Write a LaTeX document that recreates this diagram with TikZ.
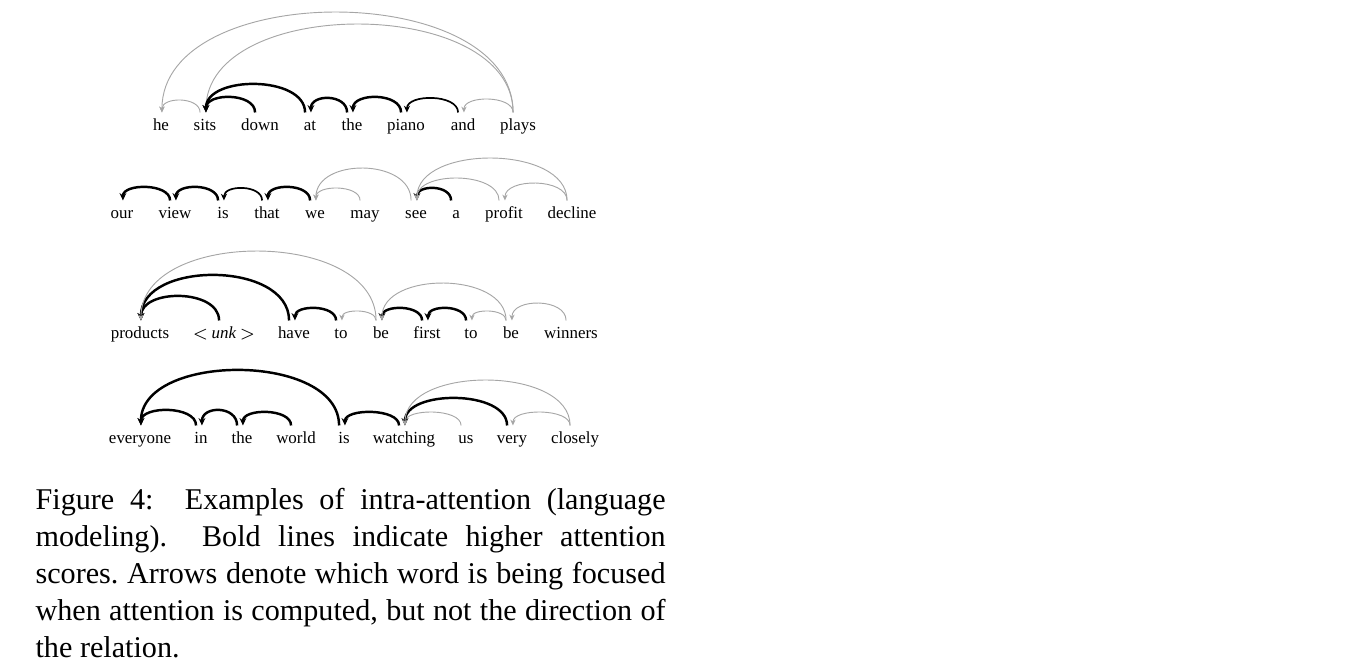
\documentclass[tikz,border=0pt]{standalone}
\usepackage{fontspec}
\setmainfont{Liberation Serif}
\usetikzlibrary{arrows.meta}

\newcommand{\wordfont}{\fontsize{5.5}{6.6}\selectfont}
\newcommand{\captionfont}{\fontsize{9.8}{12}\selectfont}

\begin{document}
\begin{tikzpicture}[x=0.325pt, y=-0.325pt,
  word/.style={font=\wordfont, anchor=base, inner sep=0pt, text height=5.5pt},
  strong/.style={black, line width=0.8pt, -{Stealth[length=2.4pt,width=2.2pt]}},
  medium/.style={black, line width=0.55pt, -{Stealth[length=2.2pt,width=2pt]}},
  weak/.style={gray!70, line width=0.3pt, -{Stealth[length=1.9pt,width=1.7pt]}}]

\useasboundingbox (0,0) rectangle (1368,668);

% ── Satz 1 ───────────────────────────────────────────────────────────
\foreach \name/\x/\txt in {he/161/he, sits/205/sits, down/260/down, at/310/at,
    the/352/the, piano/406/piano, and/463/and, plays/518/plays}
  \node[word] (\name) at (\x, 130) {\txt};

% ── Satz 2 ───────────────────────────────────────────────────────────
\foreach \name/\x/\txt in {our/122/our, view/175/view, is/223/is, that/267/that,
    we/315/we, may/365/may, see/416/see, a/456/a, profit/504/profit,
    decline/572/decline}
  \node[word] (\name) at (\x, 218) {\txt};

% ── Satz 3 ───────────────────────────────────────────────────────────
\foreach \name/\x/\txt in {products/140/products, unk/224/{$<$\,\textit{unk}\,$>$},
    have/294/have, to/341/to, be/381/be, first/427/first, to2/471/to,
    be2/511/be, winners/571/winners}
  \node[word] (\name) at (\x, 338) {\txt};

% ── Satz 4 ───────────────────────────────────────────────────────────
\foreach \name/\x/\txt in {everyone/140/everyone, in/201/in, the2/242/the,
    world/296/world, is2/344/is, watching/404/watching, us/466/us,
    very/512/very, closely/575/closely}
  \node[word] (\name) at (\x, 443) {\txt};

% ── Attention-Bögen: Quelle / Ziel / Höhe (px) / Stil ────────────────
\foreach \src/\dst/\h/\sty in {
   plays/he/100/weak, plays/sits/88/weak, sits/he/12/weak,
   down/sits/15/strong, at/sits/28/strong, the/at/14/strong,
   piano/the/15/strong, and/piano/14/medium, plays/and/13/weak,
   view/our/13/strong, is/view/13/strong, that/is/12/medium,
   we/that/13/strong, may/we/12/weak, see/we/32/weak,
   a/see/12/strong, profit/see/22/weak, decline/see/42/weak,
   decline/profit/17/weak,
   unk/products/24/strong, have/products/45/strong, be/products/69/weak,
   to/have/12/strong, be/to/9/weak, first/be/12/strong,
   to2/first/12/strong, be2/to2/9/weak, be2/be/37/weak,
   winners/be2/17/weak,
   is2/everyone/55/strong, in/everyone/15/strong, the2/in/15/strong,
   world/the2/13/strong, watching/is2/13/strong, us/watching/13/weak,
   very/watching/27/strong, closely/watching/45/weak, closely/very/13/weak}
{
  % Kontrollpunkte senkrecht über den Fußpunkten
  \pgfmathsetmacro{\ctl}{\h/0.75}
  \draw[\sty] ([xshift=-1.6pt]\src.north)
    .. controls +(0,-\ctl) and +(0,-\ctl) .. ([xshift=0.3pt]\dst.north);
}

% ── Bildunterschrift ─────────────────────────────────────────────────
\node[font=\captionfont, anchor=north west, inner sep=0pt,
      text width=204.75pt, align=justify] (caption) at (35, 488)
  {\frenchspacing Figure 4:\ \ Examples of intra-attention (language\linebreak
   modeling).\ \ Bold lines indicate higher attention\linebreak
   scores. Arrows denote which word is being focused\linebreak
   when attention is computed, but not the direction of\linebreak
   the relation.};

\end{tikzpicture}
\end{document}
